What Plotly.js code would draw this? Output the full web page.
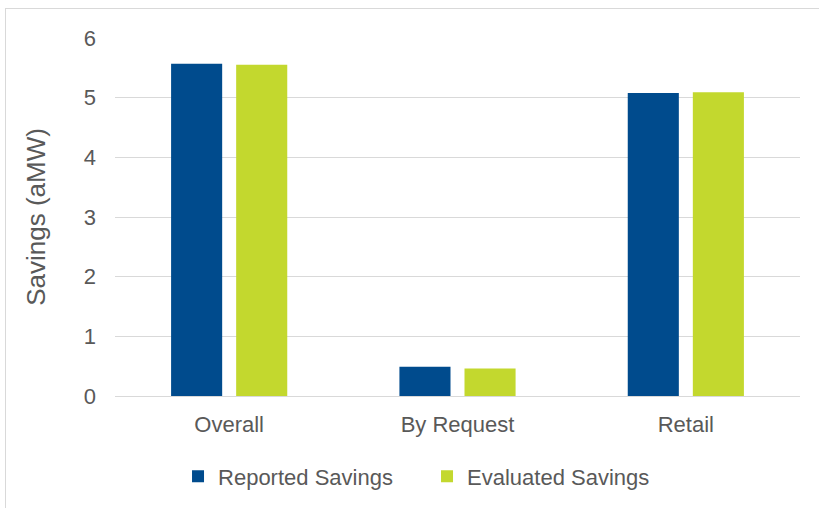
<!DOCTYPE html>
<html>
<head>
<meta charset="utf-8">
<script src="https://cdn.plot.ly/plotly-3.0.1.min.js"></script>
<style>
  html, body { margin: 0; padding: 0; background: #ffffff; }
  #frame { position: absolute; left: 5px; top: 8px; width: 840px; height: 540px; border: 1px solid #d9d9d9; box-sizing: border-box; }
  #chart { position: absolute; left: 0; top: 0; width: 819px; height: 508px; }
</style>
</head>
<body>
<div id="frame"></div>
<div id="chart"></div>
<script>
const categories = ["Overall", "By Request", "Retail"];
const reportedSavings = [5.57, 0.49, 5.08];
const evaluatedSavings = [5.55, 0.46, 5.09];
const seriesNames = ["Reported Savings", "Evaluated Savings"];
const yTicks = [0, 1, 2, 3, 4, 5, 6];

const fontFamily = '"Liberation Sans", Arial, sans-serif';
const textColor = '#595959';

const data = [
  { type: 'bar', name: seriesNames[0], x: categories, y: reportedSavings,
    marker: { color: '#004B8D' }, hoverinfo: 'x+y+name' },
  { type: 'bar', name: seriesNames[1], x: categories, y: evaluatedSavings,
    marker: { color: '#C3D82E' }, hoverinfo: 'x+y+name' }
];

const layout = {
  width: 819, height: 508,
  paper_bgcolor: 'rgba(0,0,0,0)', plot_bgcolor: 'rgba(0,0,0,0)',
  margin: { l: 115, r: 19, t: 38, b: 110.5 },
  barmode: 'group', bargap: 0.43, bargroupgap: 0.215,
  font: { family: fontFamily, color: textColor, size: 22 },
  xaxis: {
    type: 'category', showgrid: false, zeroline: false,
    showline: true, linecolor: '#d9d9d9', linewidth: 1,
    ticks: '', tickfont: { size: 22, color: textColor },
    ticklabelstandoff: 9
  },
  yaxis: {
    range: [0, 6], tickvals: yTicks, ticktext: yTicks.map(String),
    showgrid: true, gridcolor: '#d9d9d9', gridwidth: 1,
    zeroline: false, showline: false, ticks: '',
    tickfont: { size: 22, color: textColor },
    ticklabelstandoff: 18,
    title: { text: 'Savings (aMW)', font: { size: 26, color: textColor }, standoff: 30 }
  },
  showlegend: true,
  legend: {
    orientation: 'h', x: 0.092, xanchor: 'left', y: -0.221, yanchor: 'middle',
    font: { size: 22, color: textColor },
    entrywidth: 204, entrywidthmode: 'pixels',
    itemwidth: 30,
    bgcolor: 'rgba(0,0,0,0)'
  }
};

Plotly.newPlot('chart', data, layout, { displayModeBar: false, staticPlot: true });
</script>
</body>
</html>
